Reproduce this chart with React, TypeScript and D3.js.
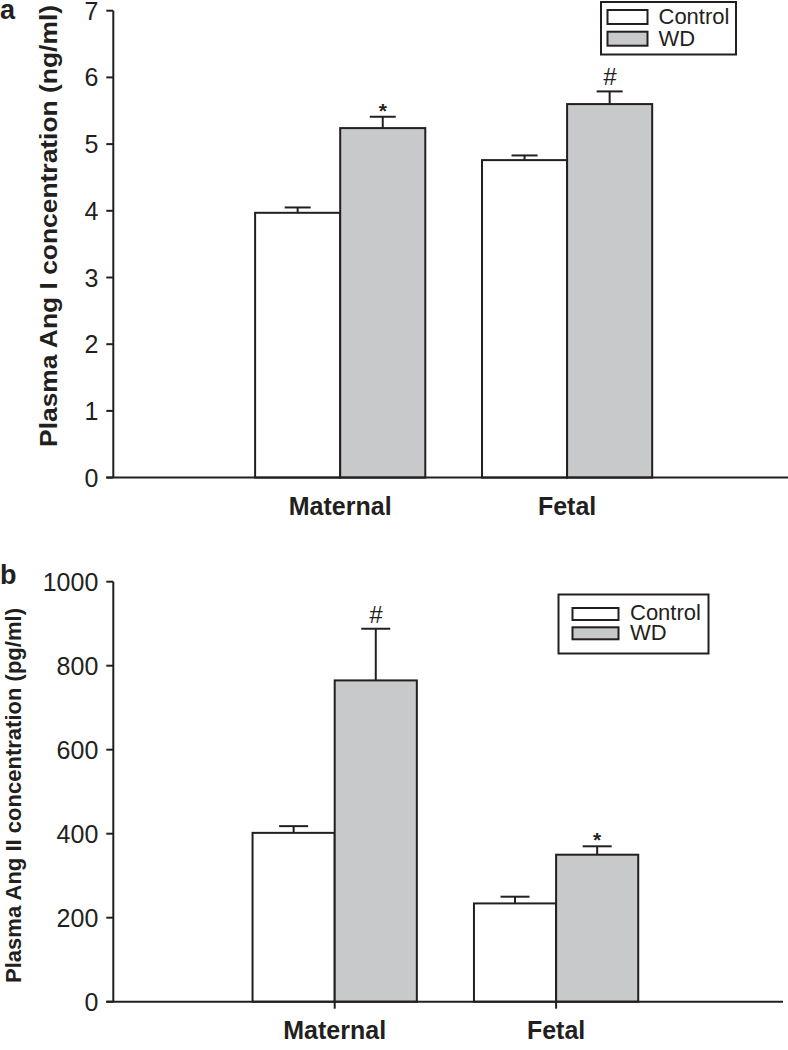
import React from "react";
import * as d3 from "d3";

// ---------- data ----------
const categories = ["Maternal", "Fetal"];
const seriesNames = ["Control", "WD"];

// Panel a: Plasma Ang I (ng/ml)
const angIControl = [3.97, 4.76];
const angIControlErr = [0.08, 0.07];
const angIWD = [5.24, 5.6];
const angIWDErr = [0.17, 0.19];
const angIMarks = ["*", "#"];
const angITicks = [0, 1, 2, 3, 4, 5, 6, 7];

// Panel b: Plasma Ang II (pg/ml)
const angIIControl = [402, 234];
const angIIControlErr = [16, 16];
const angIIWD = [765, 350];
const angIIWDErr = [123, 20];
const angIIMarks = ["#", "*"];
const angIITicks = [0, 200, 400, 600, 800, 1000];

const INK = "#231f20";
const GRAY = "#c8c9cb";
const FONT = "'Liberation Sans', Arial, Helvetica, sans-serif";

type PanelProps = {
  letter: string;
  letterY: number;
  title: string;
  titleX: number;
  titleY: number;
  titleSize: number;
  titleLen: number;
  control: number[];
  controlErr: number[];
  wd: number[];
  wdErr: number[];
  marks: string[];
  ticks: number[];
  yMax: number;
  yTop: number;
  yBottom: number;
  x0: number;
  x1: number;
  axisEnd: number;
  barFrac: number;
  capW: number;
  catTicks: boolean;
  legend: { x0: number; y0: number; x1: number; y1: number; sx0: number; sx1: number; sh: number; sy: number[]; tx: number; ty: number[] };
};

function Panel(p: PanelProps) {
  const x = d3.scalePoint<string>().domain(categories).range([p.x0, p.x1]).padding(1);
  const y = d3.scaleLinear().domain([0, p.yMax]).range([p.yBottom, p.yTop]);
  const bw = x.step() * p.barFrac;
  const series = [
    { name: seriesNames[0], vals: p.control, errs: p.controlErr, fill: "#ffffff", off: -bw },
    { name: seriesNames[1], vals: p.wd, errs: p.wdErr, fill: GRAY, off: 0 },
  ];
  const axisX = p.x0;
  return (
    <g>
      <text x={0} y={p.letterY} fontFamily={FONT} fontWeight="bold" fontSize={27} fill={INK}>
        {p.letter}
      </text>
      <text
        transform={`translate(${p.titleX},${p.titleY}) rotate(-90)`}
        textAnchor="middle"
        fontFamily={FONT}
        fontWeight="bold"
        fontSize={p.titleSize}
        fill={INK}
        textLength={p.titleLen}
        lengthAdjust="spacingAndGlyphs"
      >
        {p.title}
      </text>
      {/* bars */}
      {series.map((s) =>
        categories.map((c, i) => {
          const bx = (x(c) as number) + s.off;
          const top = y(s.vals[i]);
          const errTop = y(s.vals[i] + s.errs[i]);
          const cx = bx + bw / 2;
          return (
            <g key={s.name + c}>
              <line x1={cx} x2={cx} y1={top} y2={errTop} stroke={INK} strokeWidth={2} />
              <line x1={cx - p.capW / 2} x2={cx + p.capW / 2} y1={errTop} y2={errTop} stroke={INK} strokeWidth={2} />
              <rect x={bx} y={top} width={bw} height={p.yBottom - top} fill={s.fill} stroke={INK} strokeWidth={2} />
            </g>
          );
        })
      )}
      {/* significance marks */}
      {categories.map((c, i) => {
        const cx = (x(c) as number) + bw / 2;
        const errTop = y(p.wd[i] + p.wdErr[i]);
        const m = p.marks[i];
        return m === "#" ? (
          <text key={"m" + c} x={cx} y={errTop - 6} textAnchor="middle" fontFamily={FONT} fontStyle="italic" fontSize={24} fill={INK}>
            #
          </text>
        ) : (
          <text key={"m" + c} x={cx} y={errTop + 1} textAnchor="middle" fontFamily={FONT} fontWeight="bold" fontSize={21} fill={INK}>
            *
          </text>
        );
      })}
      {/* y axis */}
      <line x1={axisX} x2={axisX} y1={p.yTop} y2={p.yBottom} stroke={INK} strokeWidth={2} />
      {p.ticks.map((t) => (
        <g key={"t" + t}>
          <line x1={axisX - 7} x2={axisX} y1={y(t)} y2={y(t)} stroke={INK} strokeWidth={2} />
          <text x={axisX - 15} y={y(t)} dy="0.36em" textAnchor="end" fontFamily={FONT} fontSize={25} fill={INK}>
            {t}
          </text>
        </g>
      ))}
      {/* x axis */}
      <line x1={axisX - 7} x2={p.axisEnd} y1={p.yBottom} y2={p.yBottom} stroke={INK} strokeWidth={2} />
      {categories.map((c) => (
        <g key={"c" + c}>
          {p.catTicks && <line x1={x(c)} x2={x(c)} y1={p.yBottom} y2={p.yBottom + 7} stroke={INK} strokeWidth={2} />}
          <text x={x(c)} y={p.yBottom + 37.5} textAnchor="middle" fontFamily={FONT} fontWeight="bold" fontSize={25} fill={INK}>
            {c}
          </text>
        </g>
      ))}
      {/* legend */}
      <rect x={p.legend.x0} y={p.legend.y0} width={p.legend.x1 - p.legend.x0} height={p.legend.y1 - p.legend.y0} fill="#fff" stroke={INK} strokeWidth={2} />
      {series.map((s, k) => (
        <g key={"l" + s.name}>
          <rect x={p.legend.sx0} y={p.legend.sy[k]} width={p.legend.sx1 - p.legend.sx0} height={p.legend.sh} fill={s.fill} stroke={INK} strokeWidth={2} />
          <text x={p.legend.tx} y={p.legend.ty[k]} fontFamily={FONT} fontSize={22} fill={INK}>
            {s.name}
          </text>
        </g>
      ))}
    </g>
  );
}

export default function App() {
  return (
    <svg width={788} height={1050} style={{ position: "absolute", left: 0, top: 0, background: "#fff" }}>
      <rect x={0} y={0} width={788} height={1050} fill="#fff" />
      <Panel
        letter="a"
        letterY={19}
        title="Plasma Ang I concentration (ng/ml)"
        titleX={57}
        titleY={226}
        titleSize={24}
        titleLen={442}
        control={angIControl}
        controlErr={angIControlErr}
        wd={angIWD}
        wdErr={angIWDErr}
        marks={angIMarks}
        ticks={angITicks}
        yMax={7}
        yTop={10.7}
        yBottom={477.6}
        x0={113.3}
        x1={794}
        axisEnd={794}
        barFrac={0.375}
        capW={26}
        catTicks={false}
        legend={{ x0: 601, y0: 2, x1: 736, y1: 54.5, sx0: 607.5, sx1: 647.5, sh: 14, sy: [10, 31.7], tx: 658.5, ty: [24, 45.7] }}
      />
      <Panel
        letter="b"
        letterY={583.5}
        title="Plasma Ang II concentration (pg/ml)"
        titleX={21}
        titleY={795.5}
        titleSize={22}
        titleLen={375}
        control={angIIControl}
        controlErr={angIIControlErr}
        wd={angIIWD}
        wdErr={angIIWDErr}
        marks={angIIMarks}
        ticks={angIITicks}
        yMax={1000}
        yTop={581.7}
        yBottom={1001.7}
        x0={113.3}
        x1={777.5}
        axisEnd={783}
        barFrac={0.371}
        capW={29}
        catTicks={true}
        legend={{ x0: 558.5, y0: 594.5, x1: 708.5, y1: 653.5, sx0: 572.5, sx1: 618.5, sh: 12, sy: [608, 627.3], tx: 630, ty: [620, 640] }}
      />
    </svg>
  );
}
